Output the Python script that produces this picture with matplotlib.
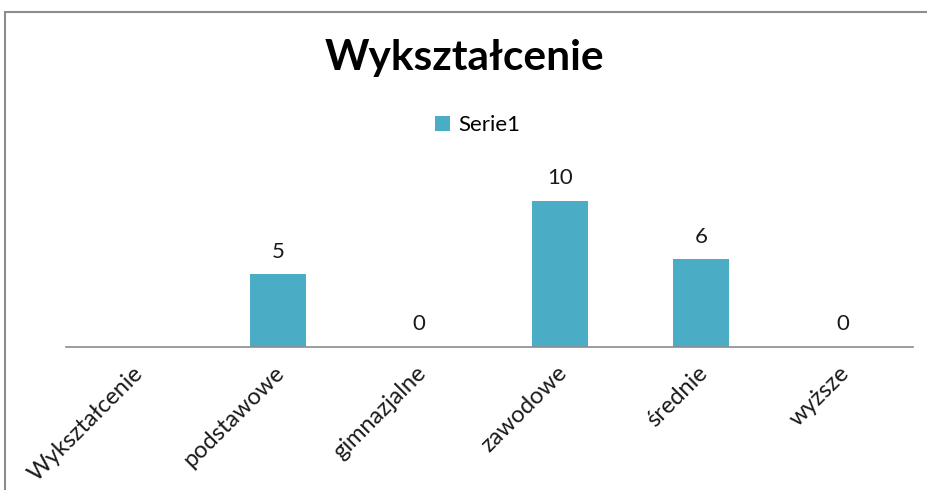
import matplotlib.pyplot as plt
import matplotlib.transforms as mtransforms
from matplotlib.patches import Rectangle

plt.rcParams['font.family'] = ['Lato', 'DejaVu Sans']

categories = ['Wykształcenie', 'podstawowe', 'gimnazjalne', 'zawodowe', 'średnie', 'wyższe']
values = [None, 5, 0, 10, 6, 0]
series_name = 'Serie1'
title = 'Wykształcenie'
bar_color = '#4BACC6'

W, H = 928, 490
fig = plt.figure(figsize=(W / 100, H / 100), dpi=100)

# grey chart border (runs off the right and bottom edge)
fig.patches.append(Rectangle((5 / W, -0.1), 1.2, (H - 12) / H + 0.1, transform=fig.transFigure,
                             fill=False, edgecolor='#8c8c8c', linewidth=1.5))

# plot area in pixel coords: x 66..913, baseline at y=347
ax = fig.add_axes([66 / W, (H - 347) / H, (913 - 66) / W, (347 - 150) / H])
x = list(range(len(categories)))
heights = [v if v is not None else 0 for v in values]
bars = ax.bar(x, heights, width=0.4, color=bar_color, label=series_name)
ax.set_xlim(-0.5, len(categories) - 0.5)
ax.set_ylim(0, (347 - 150) / 14.6)

for xi, v in zip(x, values):
    if v is None:
        continue
    ax.annotate(str(v), (xi, v), xytext=(0, 9), textcoords='offset points',
                ha='center', va='bottom', fontsize=16, color='#1a1a1a')

for s in ['top', 'right', 'left']:
    ax.spines[s].set_visible(False)
ax.spines['bottom'].set_color('#8c8c8c')
ax.spines['bottom'].set_linewidth(1.2)
ax.set_yticks([])
ax.set_xticks(x)
ax.set_xticklabels(categories, rotation=45, ha='right', rotation_mode='anchor', fontsize=17, color='#1a1a1a')
ax.tick_params(axis='x', length=0, pad=11)
shift = mtransforms.ScaledTranslation(-4 / 100, 0, fig.dpi_scale_trans)
for lab in ax.get_xticklabels():
    lab.set_transform(lab.get_transform() + shift)

fig.text(0.5, 1 - 58 / H, title, ha='center', va='center', fontsize=30.5, fontweight='bold')
fig.legend(handles=[bars], labels=[series_name], loc='center', bbox_to_anchor=(478 / W, 1 - 125 / H),
           frameon=False, fontsize=16, handlelength=0.65, handleheight=0.65, handletextpad=0.4)

fig.savefig('out.png', dpi=100, facecolor='white')
